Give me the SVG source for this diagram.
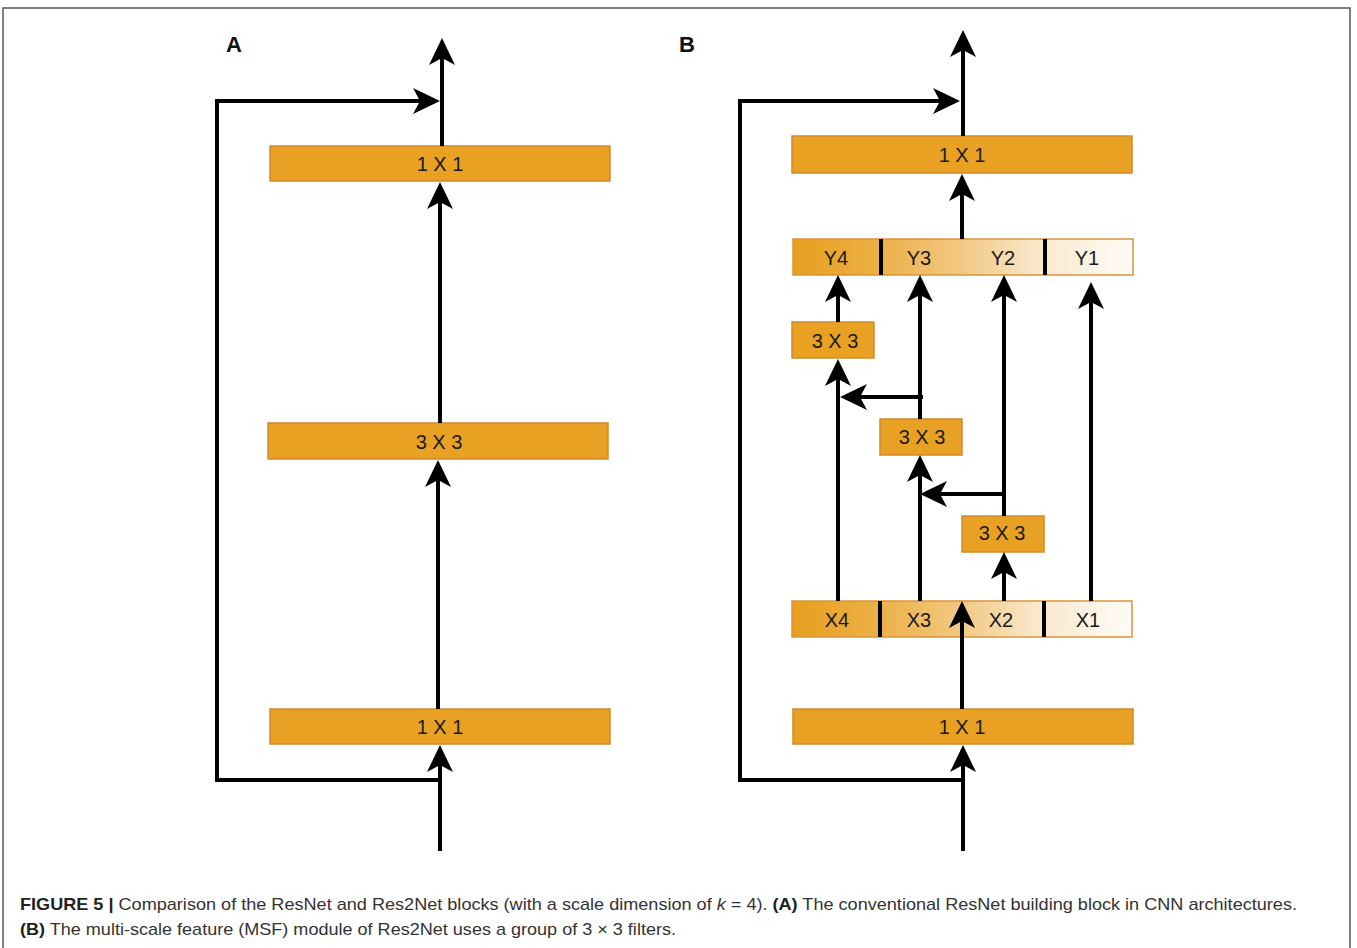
<svg xmlns="http://www.w3.org/2000/svg" width="1357" height="948" viewBox="0 0 1357 948">
<style>
.box{fill:#e8a122;stroke:#d08a2c;stroke-width:1.5}
.lbl{font-family:"Liberation Sans",Arial,sans-serif;font-size:20px;fill:#1a1a1a;text-anchor:middle;dominant-baseline:central}
.pl{font-family:"Liberation Sans",Arial,sans-serif;font-size:22px;font-weight:bold;fill:#111}
.ln{fill:none;stroke:#000;stroke-width:4;marker-end:url(#ah)}
.div{stroke:#000;stroke-width:4}
.cap{font-family:"Liberation Sans",Arial,sans-serif;font-size:17px;fill:#333}
</style>
<defs>
<marker id="ah" markerUnits="userSpaceOnUse" viewBox="-8 -14 30 28" markerWidth="30" markerHeight="28" refX="3" refY="0" orient="auto" overflow="visible">
<path d="M20,0 L-7,-13 L0,0 L-7,13 Z" fill="#000"/>
</marker>
<linearGradient id="grad" x1="0" y1="0" x2="1" y2="0">
<stop offset="0" stop-color="#e79f1e"/>
<stop offset="0.25" stop-color="#ecb045"/>
<stop offset="0.5" stop-color="#f2c983"/>
<stop offset="0.72" stop-color="#f9e8cc"/>
<stop offset="1" stop-color="#fffcf7"/>
</linearGradient>
</defs>
<rect x="3" y="8" width="1347" height="960" fill="#fff" stroke="#555" stroke-width="1.5"/>

<text class="pl" x="226" y="52">A</text>
<text class="pl" x="679" y="52">B</text>

<g id="A_top1x1"><rect class="box" x="270" y="146" width="340" height="35"/><text class="lbl" x="440" y="164">1 X 1</text></g>
<g id="A_3x3"><rect class="box" x="268" y="423" width="340" height="36"/><text class="lbl" x="439" y="442">3 X 3</text></g>
<g id="A_bot1x1"><rect class="box" x="270" y="709" width="340" height="35"/><text class="lbl" x="440" y="727">1 X 1</text></g>

<g id="B_top1x1"><rect class="box" x="792" y="136" width="340" height="37"/><text class="lbl" x="962" y="155">1 X 1</text></g>
<g id="B_Y">
<rect x="793" y="239" width="340" height="36" fill="url(#grad)" stroke="#d9953a" stroke-width="1.5"/>
<line class="div" x1="881" y1="239" x2="881" y2="275"/>
<line class="div" x1="1045" y1="239" x2="1045" y2="275"/>
<text class="lbl" x="836" y="258">Y4</text>
<text class="lbl" x="919" y="258">Y3</text>
<text class="lbl" x="1003" y="258">Y2</text>
<text class="lbl" x="1087" y="258">Y1</text>
</g>
<g id="B_3x3a"><rect class="box" x="792" y="322" width="82" height="36"/><text class="lbl" x="835" y="341">3 X 3</text></g>
<g id="B_3x3b"><rect class="box" x="880" y="419" width="82" height="36"/><text class="lbl" x="922" y="437">3 X 3</text></g>
<g id="B_3x3c"><rect class="box" x="962" y="516" width="82" height="36"/><text class="lbl" x="1002" y="533">3 X 3</text></g>
<g id="B_X">
<rect x="792" y="601" width="340" height="36" fill="url(#grad)" stroke="#d9953a" stroke-width="1.5"/>
<line class="div" x1="880" y1="601" x2="880" y2="637"/>
<line class="div" x1="1044" y1="601" x2="1044" y2="637"/>
<text class="lbl" x="837" y="620">X4</text>
<text class="lbl" x="919" y="620">X3</text>
<text class="lbl" x="1001" y="620">X2</text>
<text class="lbl" x="1088" y="620">X1</text>
</g>
<g id="B_bot1x1"><rect class="box" x="793" y="709" width="340" height="35"/><text class="lbl" x="962" y="727">1 X 1</text></g>

<g id="connectors">
<path class="ln" d="M442,146 L442,55"/>
<path class="ln" d="M440,780 L217,780 L217,101 L423,101"/>
<path class="ln" d="M440,423 L440,199"/>
<path class="ln" d="M438,709 L438,477"/>
<path class="ln" d="M440,851 L440,762"/>

<path class="ln" d="M963,136 L963,47"/>
<path class="ln" d="M963,780 L740,780 L740,101 L943,101"/>
<path class="ln" d="M962,239 L962,191"/>
<path class="ln" d="M838,322 L838,292"/>
<path class="ln" d="M838,601 L838,376"/>
<path class="ln" d="M923,397 L857,397"/>
<path class="ln" d="M920,419 L920,292"/>
<path class="ln" d="M920,601 L920,472"/>
<path class="ln" d="M1006,494 L937,494"/>
<path class="ln" d="M1004,516 L1004,292"/>
<path class="ln" d="M1004,601 L1004,569"/>
<path class="ln" d="M1091,601 L1091,299"/>
<path class="ln" d="M962,709 L962,618"/>
<path class="ln" d="M963,851 L963,762"/>
</g>

<text class="cap" x="20" y="910" textLength="1277" lengthAdjust="spacingAndGlyphs"><tspan font-weight="bold" fill="#222">FIGURE 5 |</tspan> Comparison of the ResNet and Res2Net blocks (with a scale dimension of <tspan font-style="italic">k</tspan> = 4). <tspan font-weight="bold" fill="#222">(A)</tspan> The conventional ResNet building block in CNN architectures.</text>
<text class="cap" x="20" y="935" textLength="656" lengthAdjust="spacingAndGlyphs"><tspan font-weight="bold" fill="#222">(B)</tspan> The multi-scale feature (MSF) module of Res2Net uses a group of 3 × 3 filters.</text>
</svg>
